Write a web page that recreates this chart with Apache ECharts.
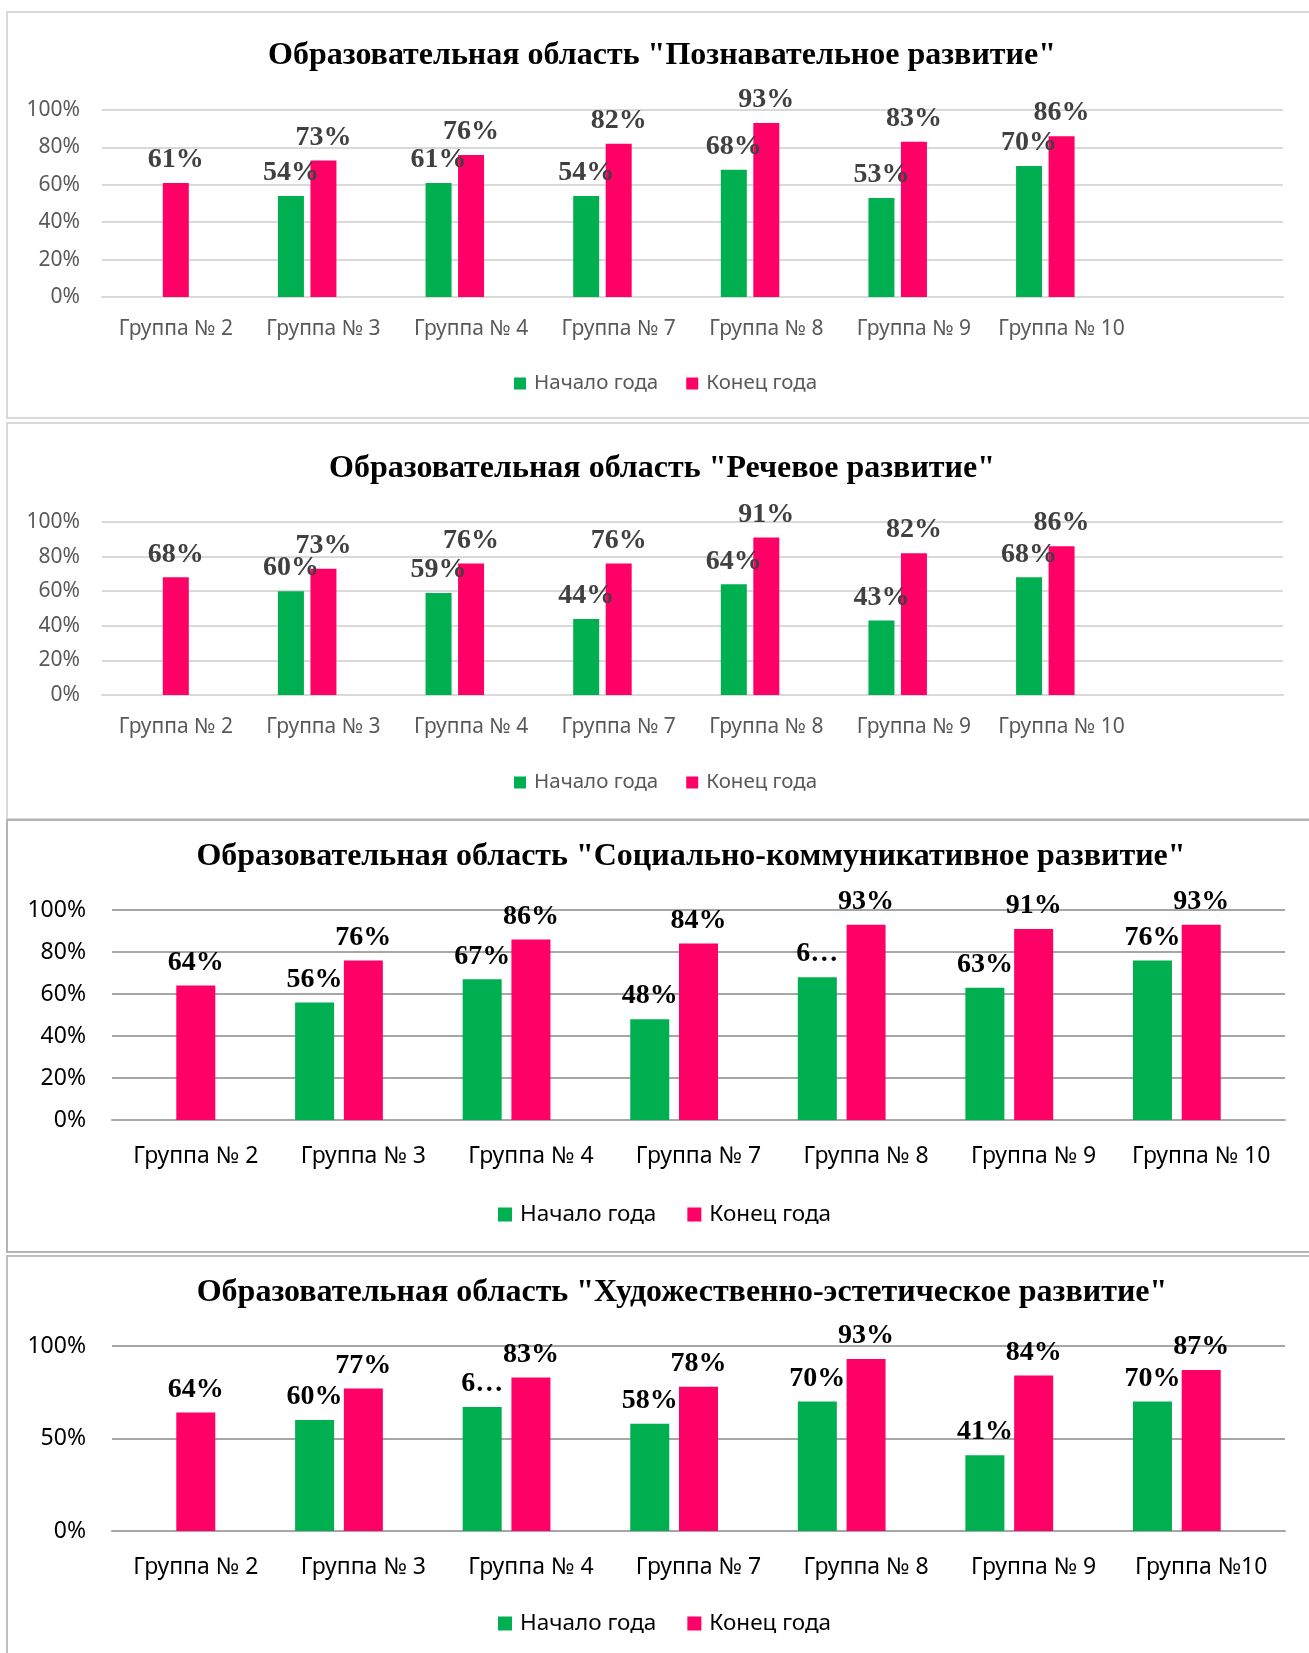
<!DOCTYPE html>
<html><head><meta charset="utf-8">
<script src="https://cdn.jsdelivr.net/npm/echarts@6/dist/echarts.min.js"></script>
<style>html,body{margin:0;padding:0;background:#fff;overflow:hidden}#c{width:1309px;height:1653px}</style>
</head><body><div id="c"></div>
<script>
// ---------- DATA ----------
const categoriesA = ['Группа № 2','Группа № 3','Группа № 4','Группа № 7','Группа № 8','Группа № 9','Группа № 10',''];
const categoriesB = ['Группа № 2','Группа № 3','Группа № 4','Группа № 7','Группа № 8','Группа № 9','Группа № 10'];
const categoriesC = ['Группа № 2','Группа № 3','Группа № 4','Группа № 7','Группа № 8','Группа № 9','Группа №10'];
const seriesNames = ['Начало года','Конец года'];

const title1 = 'Образовательная область "Познавательное развитие"';
const start1 = [null,54,61,54,68,53,70];
const end1   = [61,73,76,82,93,83,86];

const title2 = 'Образовательная область "Речевое развитие"';
const start2 = [null,60,59,44,64,43,68];
const end2   = [68,73,76,76,91,82,86];

const title3 = 'Образовательная область "Социально-коммуникативное развитие"';
const start3 = [null,56,67,48,68,63,76];
const end3   = [64,76,86,84,93,91,93];
const start3Labels = [null,null,null,null,'6…',null,null];

const title4 = 'Образовательная область "Художественно-эстетическое развитие"';
const start4 = [null,60,67,58,70,41,70];
const end4   = [64,77,83,78,93,84,87];
const start4Labels = [null,null,'6…',null,null,null,null];

const yTicks1 = [0,20,40,60,80,100];
const yTicks4 = [0,50,100];

// ---------- STYLE / LAYOUT ----------
const GREEN = '#00B050', PINK = '#FF0066';
const panels = [
  {title:title1, tx:662, ty:56, cats:categoriesA, start:start1, end:end1, trunc:[], ticks:yTicks1,
   grid:{left:102, top:110, width:1181, height:187}, gridColor:'#d9d9d9', txtColor:'#595959', lblColor:'#404040',
   axFont:21, yMargin:22, xMargin:22, barW:26, legend:{left:509, top:368}, legFont:20.5, legSq:12, legGap:28},
  {title:title2, tx:662, ty:469, cats:categoriesA, start:start2, end:end2, trunc:[], ticks:yTicks1,
   grid:{left:102, top:522, width:1181, height:173}, gridColor:'#d9d9d9', txtColor:'#595959', lblColor:'#404040',
   axFont:21, yMargin:22, xMargin:22, barW:26, legend:{left:509, top:767}, legFont:20.5, legSq:12, legGap:28},
  {title:title3, tx:691, ty:857, cats:categoriesB, start:start3, end:end3, trunc:start3Labels, ticks:yTicks1,
   grid:{left:112, top:910, width:1173, height:210}, gridColor:'#a6a6a6', txtColor:'#000', lblColor:'#000',
   axFont:23, yMargin:26, xMargin:25, barW:39, legend:{left:493, top:1198}, legFont:22.5, legSq:14, legGap:31},
  {title:title4, tx:682, ty:1293, cats:categoriesC, start:start4, end:end4, trunc:start4Labels, ticks:yTicks4,
   grid:{left:112, top:1346, width:1173, height:185}, gridColor:'#a6a6a6', txtColor:'#000', lblColor:'#000',
   axFont:23, yMargin:26, xMargin:25, barW:39, legend:{left:493, top:1607}, legFont:22.5, legSq:14, legGap:31}
];

const option = {
  animation:false,
  backgroundColor:'#fff',
  grid:[], xAxis:[], yAxis:[], series:[], legend:[], graphic:[]
};

// panel borders
const borders = [
  {y:12, h:406, c:'#d9d9d9'},
  {y:423, h:396, c:'#d9d9d9'},
  {y:820, h:432, c:'#b4b4b4'},
  {y:1256, h:460, c:'#bfbfbf'}
];
borders.forEach(b=>{
  option.graphic.push({type:'rect', silent:true, z:-10,
    shape:{x:7, y:b.y, width:1360, height:b.h},
    style:{fill:'none', stroke:b.c, lineWidth:2}});
});

panels.forEach((p,i)=>{
  option.grid.push(Object.assign({containLabel:false}, p.grid));
  const tmax = p.ticks[p.ticks.length-1];
  option.xAxis.push({type:'category', gridIndex:i, data:p.cats,
    axisTick:{show:false},
    axisLine:{lineStyle:{color:p.gridColor, width:2}},
    axisLabel:{color:p.txtColor, fontSize:p.axFont, fontFamily:'Noto Sans', margin:p.xMargin, interval:0, lineHeight:p.axFont}
  });
  option.yAxis.push({type:'value', gridIndex:i, min:0, max:tmax, interval:p.ticks[1]-p.ticks[0],
    axisLine:{show:false}, axisTick:{show:false},
    splitLine:{lineStyle:{color:p.gridColor, width:2}},
    axisLabel:{color:p.txtColor, fontSize:p.axFont, fontFamily:'Noto Sans', margin:p.yMargin, formatter:'{value}%'}
  });
  const lbl = (trunc)=>({show:true, position:'top', distance:9, color:p.lblColor,
    fontFamily:'Liberation Serif', fontWeight:'bold', fontSize:28, lineHeight:28,
    formatter:(d)=> (trunc && trunc[d.dataIndex]) ? trunc[d.dataIndex] : d.value + '%'});
  option.series.push({name:seriesNames[0], type:'bar', xAxisIndex:i, yAxisIndex:i, data:p.start,
    barWidth:p.barW, barGap:'25%', itemStyle:{color:GREEN}, label:lbl(p.trunc)});
  option.series.push({name:seriesNames[1], type:'bar', xAxisIndex:i, yAxisIndex:i, data:p.end,
    barWidth:p.barW, barGap:'25%', itemStyle:{color:PINK}, label:lbl(null)});
  option.series.push({name:'_empty'+i, type:'bar', xAxisIndex:i, yAxisIndex:i, data:p.end.map(()=>null),
    barWidth:p.barW, barGap:'25%', itemStyle:{color:'#ccc'}});
  option.legend.push({left:p.legend.left, top:p.legend.top, data:seriesNames, icon:'rect',
    itemWidth:p.legSq, itemHeight:p.legSq, itemGap:p.legGap, selectedMode:false,
    textStyle:{color:p.txtColor, fontSize:p.legFont, fontFamily:'Noto Sans', padding:[0,0,0,3]}});
  option.graphic.push({type:'text', silent:true, x:p.tx, y:p.ty,
    style:{text:p.title, font:'bold 32px "Liberation Serif"', fill:'#000',
      textAlign:'center', align:'center', textVerticalAlign:'middle', verticalAlign:'middle'}});
});

const chart = echarts.init(document.getElementById('c'), null, {renderer:'canvas'});
chart.setOption(option);
</script>
</body></html>
